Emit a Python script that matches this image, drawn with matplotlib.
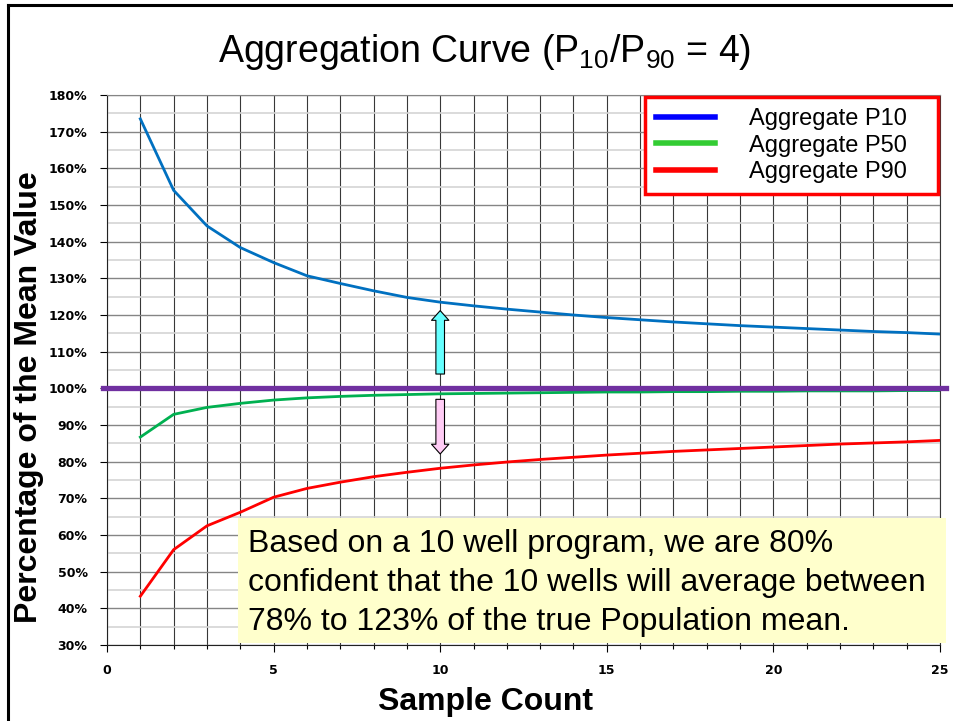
import numpy as np
import matplotlib
matplotlib.use("Agg")
import matplotlib.pyplot as plt
from matplotlib.lines import Line2D
from matplotlib.patches import Rectangle

plt.rcParams['mathtext.fontset'] = 'custom'
plt.rcParams['mathtext.rm'] = 'Liberation Sans'
plt.rcParams['mathtext.it'] = 'Liberation Sans'

# sample counts and aggregate percentiles (% of mean)
sample_count = np.arange(1, 26)
p10 = [173.5, 154.0, 144.3, 138.4, 134.3, 130.7, 128.6, 126.6, 124.8, 123.5,
       122.5, 121.6, 120.8, 120.0, 119.3, 118.7, 118.1, 117.6, 117.1, 116.7,
       116.3, 115.9, 115.5, 115.2, 114.8]
p50 = [86.7, 92.9, 94.8, 95.9, 96.8, 97.4, 97.8, 98.1, 98.3, 98.5,
       98.6, 98.7, 98.8, 98.9, 99.0, 99.0, 99.1, 99.1, 99.2, 99.2,
       99.3, 99.3, 99.3, 99.4, 99.4]
p90 = [43.3, 56.0, 62.5, 66.2, 70.3, 72.7, 74.4, 75.9, 77.1, 78.2,
       79.1, 79.9, 80.6, 81.2, 81.8, 82.3, 82.8, 83.2, 83.6, 84.0,
       84.4, 84.8, 85.1, 85.4, 85.8]
mean_level = 100

# arrows at 10 wells (start, tip)
arrow_x = 10
up_arrow = (103.9, 121.2)
down_arrow = (97.0, 82.1)

yticks = list(range(30, 181, 10))
ytick_labels = [f"{v}%" for v in yticks]
xticks = [0, 5, 10, 15, 20, 25]

legend_labels = ["Aggregate P10", "Aggregate P50", "Aggregate P90"]
legend_colors = ["#0000FF", "#33CC33", "#FF0000"]

note = ("Based on a 10 well program, we are 80%\n"
        "confident that the 10 wells will average between\n"
        "78% to 123% of the true Population mean.")

fig = plt.figure(figsize=(9.54, 7.21), dpi=100)
ax = fig.add_axes([107 / 954, 1 - 645 / 721, (940 - 107) / 954, (645 - 95) / 721])

ax.set_xlim(0, 25)
ax.set_ylim(30, 180)

# grid
ax.set_xticks(np.arange(0, 26), minor=True)
ax.set_yticks(np.arange(30, 181, 5), minor=True)
ax.set_xticks(xticks)
ax.set_yticks(yticks)
ax.set_yticklabels(ytick_labels)
ax.grid(which='minor', axis='y', color='#d4d4d4', lw=1.2)
ax.grid(which='major', axis='y', color='#858585', lw=1.0)
ax.grid(which='minor', axis='x', color='#383838', lw=0.8)
ax.grid(which='major', axis='x', color='#383838', lw=0.8)
ax.set_axisbelow(True)

for lab in ax.get_xticklabels() + ax.get_yticklabels():
    lab.set_fontweight('bold')
    lab.set_fontfamily('DejaVu Sans')
    lab.set_fontsize(9)
ax.tick_params(which='major', length=5, width=0.8, pad=9, direction='out')
ax.tick_params(which='minor', length=3, width=0.8, direction='out')
ax.tick_params(axis='y', which='minor', length=0)

ax.spines['top'].set_color('#858585')
ax.spines['right'].set_color('#383838')
ax.spines['left'].set_color('#222222')
ax.spines['bottom'].set_color('#222222')

ax.plot(sample_count, p10, color='#0070C0', lw=2.0, zorder=3)
ax.plot(sample_count, p50, color='#00B050', lw=2.0, zorder=3)
ax.plot(sample_count, p90, color='#FF0000', lw=2.0, zorder=3)
ax.axhline(mean_level, xmin=-0.005, xmax=1.007, color='#7030A0', lw=3.8,
           clip_on=False, zorder=4)

arrow_style = "simple,head_length=0.7,head_width=1.25,tail_width=0.62"
ax.annotate("", xy=(arrow_x, up_arrow[1]), xytext=(arrow_x, up_arrow[0]),
            arrowprops=dict(arrowstyle=arrow_style, fc='#66FFFF', ec='black',
                            lw=0.8, shrinkA=0, shrinkB=0), zorder=5)
ax.annotate("", xy=(arrow_x, down_arrow[1]), xytext=(arrow_x, down_arrow[0]),
            arrowprops=dict(arrowstyle=arrow_style, fc='#FFCCF5', ec='black',
                            lw=0.8, shrinkA=0, shrinkB=0), zorder=5)

handles = [Line2D([0], [0], color=c, lw=4) for c in legend_colors]
leg = ax.legend(handles, [s + "   " for s in legend_labels], loc='upper right',
                bbox_to_anchor=(1.0, 1.0),
                borderaxespad=0.1, fancybox=False, framealpha=1, edgecolor='#FF0000',
                prop={'family': 'Liberation Sans', 'size': 17},
                handlelength=2.5, handletextpad=1.45, labelspacing=0.2,
                borderpad=0.45)
leg.get_frame().set_linewidth(2.5)
leg.set_zorder(6)

ax.set_xlabel("Sample Count", fontsize=23, fontweight='bold', family='Liberation Sans')
ax.xaxis.set_label_coords((486 - 107) / 833, -(687 - 645) / 550)
ax.set_ylabel("Percentage of the Mean Value", fontsize=23, fontweight='bold',
              family='Liberation Sans')
ax.yaxis.set_label_coords((44 - 107) / 833, 1 - (397 - 95) / 550)

fig.text(485 / 954, 1 - 62 / 721, r"Aggregation Curve (P$_{10}$/P$_{90}$ = 4)",
         fontsize=27, family='Liberation Sans', ha='center', va='baseline')

# note box
fig.add_artist(Rectangle((238 / 954, 1 - 643 / 721), (946 - 238) / 954, (643 - 518) / 721,
                         transform=fig.transFigure, facecolor='#FFFFCC',
                         edgecolor='none', zorder=7))
fig.text(248 / 954, 1 - 583 / 721, note, fontsize=23, family='Liberation Sans',
         ha='left', va='center', linespacing=1.39, zorder=8)

# slide border
fig.add_artist(Line2D([8 / 954, 1.0], [1 - 5 / 721, 1 - 5 / 721],
                      transform=fig.transFigure, color='black', lw=2.2))
fig.add_artist(Line2D([8 / 954, 8 / 954], [0, 1 - 5 / 721],
                      transform=fig.transFigure, color='black', lw=2.2))

fig.savefig("out.png", dpi=100)
